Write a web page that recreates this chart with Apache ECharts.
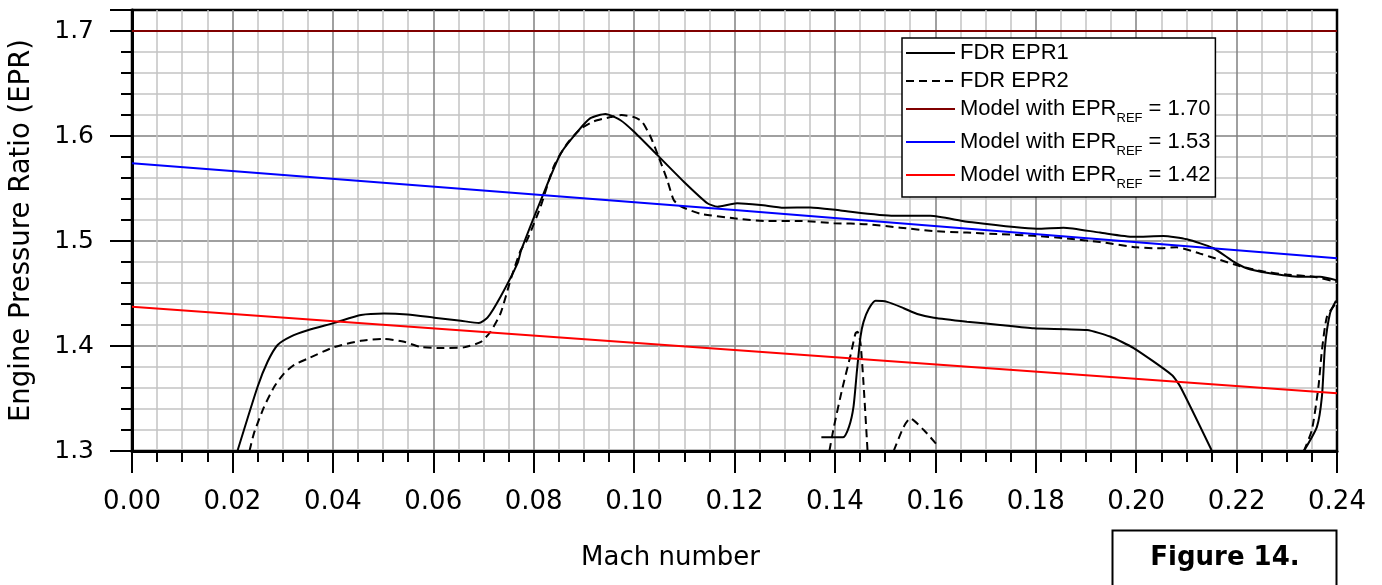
<!DOCTYPE html>
<html><head><meta charset="utf-8">
<script src="https://cdn.jsdelivr.net/npm/echarts@6/dist/echarts.min.js"></script>
<style>html,body{margin:0;padding:0;background:#fff}#c{width:1382px;height:585px}</style>
</head><body><div id="c"></div>
<script>
// ---- data ----
const xTickValues = [0, 0.02, 0.04, 0.06, 0.08, 0.10, 0.12, 0.14, 0.16, 0.18, 0.20, 0.22, 0.24];
const yTickValues = [1.3, 1.4, 1.5, 1.6, 1.7];

const epr1A = [
 [0.0210,1.300],[0.0250,1.361],[0.0270,1.385],[0.0290,1.401],[0.0316,1.409],[0.0350,1.415],
 [0.0403,1.422],[0.0456,1.4295],[0.0502,1.431],[0.0549,1.430],[0.0602,1.427],[0.0655,1.424],
 [0.0691,1.422],[0.0708,1.427],[0.0734,1.447],[0.0768,1.479],[0.0775,1.491],[0.0817,1.542],
 [0.0854,1.5835],[0.0887,1.604],[0.0913,1.617],[0.0943,1.621],[0.0973,1.615],[0.1000,1.604],
 [0.1046,1.582],[0.1099,1.5565],[0.1146,1.536],[0.1166,1.5327],[0.1205,1.536],[0.1252,1.5343],
 [0.1298,1.5317],[0.1351,1.532],[0.1411,1.529],[0.1517,1.524],[0.1590,1.524],[0.1663,1.5184],
 [0.1802,1.5117],[0.1855,1.5127],[0.1928,1.508],[0.1995,1.504],[0.2054,1.5048],[0.2101,1.5016],
 [0.2154,1.4931],[0.2194,1.4803],[0.2220,1.474],[0.2260,1.4698],[0.2326,1.466],[0.2366,1.466],
 [0.2400,1.4625]
];
const epr1B = [
 [0.1373,1.313],[0.1416,1.313],[0.1428,1.323],[0.1437,1.342],[0.1444,1.377],[0.1451,1.409],
 [0.1457,1.423],[0.1467,1.435],[0.1481,1.443],[0.1504,1.442],[0.1537,1.436],[0.1564,1.4305],
 [0.1597,1.427],[0.1663,1.4232],[0.1729,1.420],[0.1796,1.4168],[0.1902,1.4152],[0.1948,1.409],
 [0.1995,1.398],[0.2071,1.3724],[0.2088,1.3612],[0.2151,1.300]
];
const epr1C = [
 [0.2334,1.300],[0.2360,1.323],[0.2370,1.352],[0.2376,1.399],[0.2386,1.431],[0.2398,1.443]
];
const epr2A = [
 [0.0234,1.300],[0.0243,1.317],[0.0263,1.342],[0.0283,1.361],[0.0303,1.374],[0.0323,1.382],
 [0.0350,1.388],[0.0403,1.399],[0.0456,1.405],[0.0502,1.4067],[0.0542,1.404],[0.0575,1.399],
 [0.0615,1.398],[0.0661,1.3987],[0.0695,1.404],[0.0714,1.4136],[0.0734,1.431],[0.0754,1.463],
 [0.0774,1.491],[0.0787,1.501],[0.0814,1.533],[0.0840,1.571],[0.0867,1.593],[0.0894,1.607],
 [0.0920,1.614],[0.0953,1.618],[0.0975,1.620],[0.1000,1.618],[0.1016,1.6136],[0.1033,1.599],
 [0.1049,1.580],[0.1066,1.558],[0.1079,1.539],[0.1093,1.533],[0.1132,1.526],[0.1199,1.5216],
 [0.1265,1.519],[0.1331,1.519],[0.1398,1.517],[0.1464,1.516],[0.1530,1.5127],[0.1597,1.5095],
 [0.1663,1.508],[0.1729,1.5065],[0.1796,1.505],[0.1862,1.5025],[0.1928,1.499],[0.2001,1.494],
 [0.2041,1.493],[0.2081,1.494],[0.2127,1.488],[0.2167,1.482],[0.2207,1.476],[0.2253,1.471],
 [0.2300,1.468],[0.2353,1.466],[0.2400,1.461]
];
const epr2B = [
 [0.1389,1.300],[0.1398,1.323],[0.1414,1.358],[0.1431,1.391],[0.1441,1.412],[0.1445,1.4136],
 [0.1451,1.4025],[0.1457,1.364],[0.1465,1.300]
];
const epr2C = [
 [0.1517,1.300],[0.1537,1.323],[0.1550,1.331],[0.1577,1.320],[0.1603,1.306]
];
const epr2D = [
 [0.2334,1.300],[0.2350,1.320],[0.2363,1.361],[0.2370,1.396],[0.2380,1.428],[0.2398,1.441]
];
const model170 = [[0, 1.70], [0.24, 1.70]];
const model153 = [[0, 1.574], [0.12, 1.5295], [0.24, 1.4835]];
const model142 = [[0, 1.4374], [0.12, 1.3962], [0.24, 1.355]];

const legendNames = ['FDR EPR1', 'FDR EPR2', 'Model with EPR_REF = 1.70', 'Model with EPR_REF = 1.53', 'Model with EPR_REF = 1.42'];

// ---- chart ----
const LEG_FONT = '"Liberation Sans", Arial, sans-serif';
const AX_FONT = '"DejaVu Sans", sans-serif';
const chart = echarts.init(document.getElementById('c'), null, {renderer: 'canvas'});

function fdr(name, data, dashed) {
  return {
    type: 'line', name: name, data: data, symbol: 'none', showSymbol: false, smooth: 0.2,
    silent: true, z: 3, clip: true,
    lineStyle: {color: '#000', width: 2, type: dashed ? [8, 5] : 'solid'},
    itemStyle: {color: '#000', opacity: 0}
  };
}
function model(name, data, color) {
  return {
    type: 'line', name: name, data: data, symbol: 'none', showSymbol: false,
    silent: true, z: 4, lineStyle: {color: color, width: 2}, itemStyle: {color: color, opacity: 0}
  };
}

const option = {
  animation: false,
  backgroundColor: '#fff',
  grid: {left: 131, right: 45, top: 10, bottom: 134, show: true, borderColor: '#000', borderWidth: 2.5, backgroundColor: 'transparent'},
  xAxis: {
    type: 'value', min: 0, max: 0.24, interval: 0.02,
    axisLine: {show: true, onZero: false, lineStyle: {color: '#000', width: 3}},
    axisTick: {show: true, length: 22, lineStyle: {color: '#000', width: 2}},
    minorTick: {show: true, splitNumber: 4, length: 11, lineStyle: {color: '#000', width: 2}},
    splitLine: {show: true, showMinLine: false, showMaxLine: false, lineStyle: {color: '#808080', width: 1.5}},
    minorSplitLine: {show: true, lineStyle: {color: '#c3c3c3', width: 1.5}},
    axisLabel: {margin: 38, fontSize: 26, fontFamily: AX_FONT, color: '#000', showMinLabel: true, showMaxLabel: true,
      customValues: xTickValues, formatter: v => Number(v).toFixed(2)},
    name: 'Mach number', nameLocation: 'middle', nameGap: 94,
    nameTextStyle: {fontSize: 26, fontFamily: AX_FONT, color: '#000', padding: [0, 128, 0, 0]}
  },
  yAxis: {
    type: 'value', min: 1.3, max: 1.72, interval: 0.1,
    axisLine: {show: true, onZero: false, lineStyle: {color: '#000', width: 3}},
    axisTick: {show: true, length: 22, lineStyle: {color: '#000', width: 2}},
    minorTick: {show: true, splitNumber: 5, length: 11, lineStyle: {color: '#000', width: 2}},
    splitLine: {show: true, showMinLine: false, showMaxLine: false, lineStyle: {color: '#808080', width: 1.5}},
    minorSplitLine: {show: true, lineStyle: {color: '#c3c3c3', width: 1.5}},
    axisLabel: {margin: 38, fontSize: 25, fontFamily: AX_FONT, color: '#000',
      customValues: yTickValues,
      formatter: v => (Math.abs(v - 1.72) < 1e-9 ? '' : Number(v).toFixed(1))},
    name: 'Engine Pressure Ratio (EPR)', nameLocation: 'middle', nameGap: 96, nameRotate: 90,
    nameTextStyle: {fontSize: 27.5, fontFamily: AX_FONT, color: '#000'}
  },
  legend: {
    data: legendNames, orient: 'vertical', left: 902, top: 38,
    padding: [4, 5, 6, 3], itemGap: 6, itemWidth: 49, itemHeight: 14,
    backgroundColor: '#fff', borderColor: '#000', borderWidth: 1.5, borderRadius: 0,
    selectedMode: false,
    itemStyle: {opacity: 0, borderWidth: 0},
    textStyle: {
      fontFamily: LEG_FONT, fontSize: 22, lineHeight: 22, color: '#000',
      rich: {
        a: {fontFamily: LEG_FONT, fontSize: 22, lineHeight: 22, color: '#000', verticalAlign: 'top'},
        s: {fontFamily: LEG_FONT, fontSize: 13, lineHeight: 10, color: '#000', verticalAlign: 'top', padding: [14, 0, 0, 0]}
      }
    },
    formatter: function (name) {
      if (name.indexOf('EPR_REF') >= 0) {
        const parts = name.split('EPR_REF');
        return '{a|' + parts[0] + 'EPR}{s|REF}{a|' + parts[1] + '}';
      }
      return '{a|' + name + '}';
    }
  },
  graphic: [
    {type: 'rect', z: 10, shape: {x: 1112.5, y: 530.5, width: 224, height: 80},
     style: {fill: '#fff', stroke: '#000', lineWidth: 2}},
    {type: 'text', z: 11, x: 1225, y: 558,
     style: {text: 'Figure 14.', fontSize: 26, fontWeight: 'bold', fontFamily: AX_FONT, fill: '#000', align: 'center', verticalAlign: 'middle'}}
  ],
  series: [
    fdr('FDR EPR1', epr1A, false),
    fdr('FDR EPR1', epr1B, false),
    fdr('FDR EPR1', epr1C, false),
    fdr('FDR EPR2', epr2A, true),
    fdr('FDR EPR2', epr2B, true),
    fdr('FDR EPR2', epr2C, true),
    fdr('FDR EPR2', epr2D, true),
    model(legendNames[2], model170, '#800000'),
    model(legendNames[3], model153, '#0000ff'),
    model(legendNames[4], model142, '#ff0000')
  ]
};
chart.setOption(option);
</script></body></html>
